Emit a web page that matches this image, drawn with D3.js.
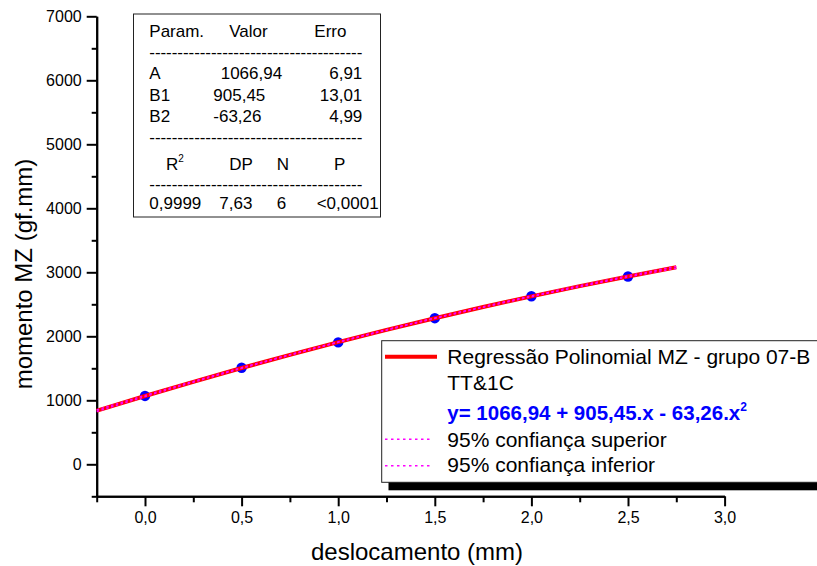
<!DOCTYPE html>
<html>
<head>
<meta charset="utf-8">
<script src="https://cdn.jsdelivr.net/npm/d3@7"></script>
<style>
  body { margin: 0; background: #fff; overflow: hidden; }
  svg { display: block; font-family: Arial, 'Liberation Sans', sans-serif; }
</style>
</head>
<body>
<main></main>
<script>
// measured points
const deslocamento = [0, 0.5, 1.0, 1.5, 2.0, 2.5]
const momento = [1068, 1508, 1905, 2283, 2626, 2934]

// fitted curve and 95% bands, read at quarter steps
const fitX = [-0.25, 0, 0.25, 0.5, 0.75, 1.0, 1.25, 1.5, 1.75, 2.0, 2.25, 2.5, 2.75]
const fitY = [837, 1067, 1289, 1504, 1710, 1909, 2100, 2283, 2458, 2624, 2784, 2935, 3078]
const fitUpper = [850, 1076, 1296, 1509, 1714, 1913, 2104, 2287, 2463, 2630, 2791, 2944, 3092]
const fitLower = [824, 1058, 1282, 1499, 1706, 1905, 2096, 2279, 2452, 2618, 2777, 2926, 3064]

const xTicks = [0, 0.5, 1.0, 1.5, 2.0, 2.5, 3.0]
const xMinorTicks = [-0.25, 0.25, 0.75, 1.25, 1.75, 2.25, 2.75]
const yTicks = [0, 1000, 2000, 3000, 4000, 5000, 6000, 7000]
const yMinorTicks = [-500, 500, 1500, 2500, 3500, 4500, 5500, 6500]

// parameter table
const tableHeader = ['Param.', 'Valor', 'Erro']
const paramNames = ['A', 'B1', 'B2']
const paramValues = ['1066,94', '905,45', '-63,26']
const paramErrors = ['6,91', '13,01', '4,99']
const statNames = ['R', 'DP', 'N', 'P']
const statValues = ['0,9999', '7,63', '6', '<0,0001']

const legendLabels = ['Regressão Polinomial MZ - grupo 07-B', 'TT&1C', '95% confiança superior', '95% confiança inferior']
const equation = 'y= 1066,94 + 905,45.x - 63,26.x'

const W = 817
const H = 566
const comma = d => d.toFixed(1).replace('.', ',')

const svg = d3.select('main')
  .append('svg')
  .attr('width', W)
  .attr('height', H)

const x = d3.scaleLinear().domain([-0.25, 3.0]).range([96.7, 724.6])
const y = d3.scaleLinear().domain([-500, 7000]).range([496.3, 16.3])

// axes
const xAxis = svg.append('g')
  .attr('transform', 'translate(0,' + y(-500) + ')')
  .call(d3.axisBottom(x).tickValues(xTicks).tickFormat(comma).tickSize(10).tickSizeOuter(0).tickPadding(5))
svg.append('g')
  .attr('transform', 'translate(0,' + y(-500) + ')')
  .call(d3.axisBottom(x).tickValues(xMinorTicks).tickFormat('').tickSize(6).tickSizeOuter(0))
svg.append('g')
  .attr('transform', 'translate(' + x(-0.25) + ',0)')
  .call(d3.axisLeft(y).tickValues(yTicks).tickFormat(d3.format('d')).tickSize(10).tickSizeOuter(0).tickPadding(5))
svg.append('g')
  .attr('transform', 'translate(' + x(-0.25) + ',0)')
  .call(d3.axisLeft(y).tickValues(yMinorTicks).tickFormat('').tickSize(5).tickSizeOuter(0))

svg.selectAll('.domain, .tick line')
  .style('stroke', '#000')
  .style('stroke-width', '2px')
svg.selectAll('.tick text')
  .style('font-family', 'Arial, Liberation Sans, sans-serif')
  .style('font-size', '16px')
  .style('fill', '#000')
xAxis.selectAll('.tick text').attr('dy', '0.71em')

// axis titles
svg.append('text')
  .attr('x', 417)
  .attr('y', 560)
  .attr('text-anchor', 'middle')
  .style('font-size', '24px')
  .text('deslocamento (mm)')
svg.append('text')
  .attr('transform', 'translate(31.5,274) rotate(-90)')
  .attr('text-anchor', 'middle')
  .style('font-size', '24px')
  .text('momento MZ (gf.mm)')

// points
svg.selectAll('circle.pt')
  .data(deslocamento.map((d, i) => [d, momento[i]]))
  .enter()
  .append('circle')
  .attr('class', 'pt')
  .attr('cx', d => x(d[0]))
  .attr('cy', d => y(d[1]))
  .attr('r', 5.2)
  .style('fill', '#0000ff')

// fit and confidence curves
const line = d3.line()
  .x(d => x(d[0]))
  .y(d => y(d[1]))
  .curve(d3.curveMonotoneX)
svg.append('path')
  .datum(fitX.map((d, i) => [d, fitY[i]]))
  .attr('d', line)
  .style('fill', 'none')
  .style('stroke', '#ff0000')
  .style('stroke-width', '4px')
;[fitUpper, fitLower].forEach(band => {
  svg.append('path')
    .datum(fitX.map((d, i) => [d, band[i]]))
    .attr('d', line)
    .style('fill', 'none')
    .style('stroke', '#ff00ff')
    .style('stroke-width', '1.5px')
    .style('stroke-dasharray', '2.5,2.5')
})

// parameter table
const tbl = svg.append('g')
tbl.append('rect')
  .attr('x', 133.5)
  .attr('y', 14)
  .attr('width', 247)
  .attr('height', 203)
  .style('fill', '#fff')
  .style('stroke', '#222')
  .style('stroke-width', '1px')
const tfont = '17px'
const tText = (tx, ty, s, anchor) => tbl.append('text')
  .attr('x', tx)
  .attr('y', ty)
  .attr('text-anchor', anchor || 'start')
  .style('font-size', tfont)
  .text(s)
const headerX = [149.3, 229.3, 314.3]
tableHeader.forEach((s, i) => tText(headerX[i], 37.3, s))
const valueX = [220.7, 213.3, 213.3]
const rowY = [79.3, 100.7, 121.7]
paramNames.forEach((s, i) => {
  tText(149.3, rowY[i], s)
  tText(valueX[i], rowY[i], paramValues[i])
  tText(362.3, rowY[i], paramErrors[i], 'end')
})
;[58, 142.5, 189.5].forEach(dy => {
  tText(149.3, dy, '-'.repeat(38))
    .attr('textLength', 213)
    .attr('lengthAdjust', 'spacing')
})
const statX = [166, 229.3, 276.7, 334]
statNames.forEach((s, i) => {
  const t = tText(statX[i], 170, s)
  if (i === 0) {
    t.append('tspan')
      .attr('dy', -8)
      .style('font-size', '10px')
      .text('2')
  }
})
const statValX = [149.3, 219.3, 276.7, 316.7]
statValues.forEach((s, i) => tText(statValX[i], 209.3, s))

// legend
const lg = svg.append('g')
lg.append('rect')
  .attr('x', 388.5)
  .attr('y', 348.7)
  .attr('width', 500)
  .attr('height', 141.6)
  .style('fill', '#000')
lg.append('rect')
  .attr('x', 381.7)
  .attr('y', 340.7)
  .attr('width', 500)
  .attr('height', 141.6)
  .style('fill', '#fff')
  .style('stroke', '#222')
  .style('stroke-width', '1px')
lg.append('line')
  .attr('x1', 385)
  .attr('x2', 437)
  .attr('y1', 356.7)
  .attr('y2', 356.7)
  .style('stroke', '#ff0000')
  .style('stroke-width', '4px')
;[439.3, 465.7].forEach(ly => {
  lg.append('line')
    .attr('x1', 385)
    .attr('x2', 432)
    .attr('y1', ly)
    .attr('y2', ly)
    .style('stroke', '#ff00ff')
    .style('stroke-width', '1.5px')
    .style('stroke-dasharray', '2.5,3.5')
})
const legendY = [364, 390, 446.7, 472.3]
legendLabels.forEach((s, i) => {
  lg.append('text')
    .attr('x', 447.3)
    .attr('y', legendY[i])
    .style('font-size', '21px')
    .text(s)
})
const eq = lg.append('text')
  .attr('x', 447.3)
  .attr('y', 420)
  .style('font-size', '20.5px')
  .style('font-weight', 'bold')
  .style('fill', '#0000ff')
  .text(equation)
eq.append('tspan')
  .attr('dy', -9)
  .style('font-size', '12px')
  .text('2')
</script>
</body>
</html>
